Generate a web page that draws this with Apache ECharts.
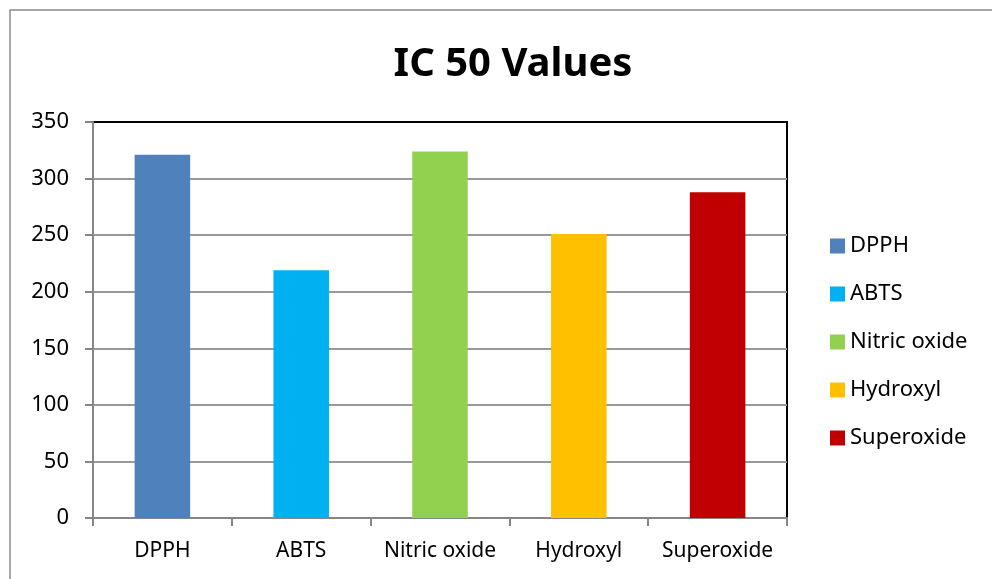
<!DOCTYPE html>
<html>
<head>
<meta charset="utf-8">
<script src="https://cdn.jsdelivr.net/npm/echarts@6/dist/echarts.min.js"></script>
<style>
  html, body { margin: 0; padding: 0; background: #fff; }
  #chart { width: 992px; height: 579px; }
</style>
</head>
<body>
<div id="chart"></div>
<script>
// chart data
const categories = ['DPPH', 'ABTS', 'Nitric oxide', 'Hydroxyl', 'Superoxide'];
const values = [321, 219, 324, 251, 288];
const yTicks = [0, 50, 100, 150, 200, 250, 300, 350];

// bar colours, one per category
const barColors = ['#4f81bd', '#00b0f0', '#92d050', '#ffc000', '#c00000'];

const chart = echarts.init(document.getElementById('chart'));
const font = 'Noto Sans';

// one series per category so every bar gets its own legend entry
const series = categories.map((name, i) => ({
  name: name,
  type: 'bar',
  stack: 'all',
  barWidth: '40%',
  itemStyle: { color: barColors[i] },
  data: categories.map((c, j) => (j === i ? values[i] : null))
}));

chart.setOption({
  animation: false,
  title: {
    text: 'IC 50 Values',
    left: 508,
    textAlign: 'center',
    top: 40,
    textStyle: { fontFamily: font, fontSize: 40, fontWeight: 'bold', color: '#000' }
  },
  graphic: [{
    type: 'rect',
    shape: { x: 10, y: 10, width: 1000, height: 600 },
    style: { fill: 'none', stroke: '#8c8c8c', lineWidth: 1.5 },
    z: -1
  }],
  legend: {
    orient: 'vertical',
    left: 825,
    top: 230,
    icon: 'rect',
    itemWidth: 15,
    itemHeight: 15,
    itemGap: 26,
    textStyle: { fontFamily: font, fontSize: 22, color: '#000' },
    data: categories
  },
  grid: {
    left: 93,
    right: 205,
    top: 122,
    bottom: 61,
    show: true,
    borderColor: '#000',
    borderWidth: 2
  },
  xAxis: {
    type: 'category',
    data: categories,
    axisLine: { lineStyle: { color: '#868686', width: 2 } },
    axisTick: { show: true, interval: 0, length: 8, alignWithLabel: false, lineStyle: { color: '#868686', width: 2 } },
    axisLabel: { interval: 0, hideOverlap: false, fontFamily: font, fontSize: 21, color: '#000', margin: 23 }
  },
  yAxis: {
    type: 'value',
    min: yTicks[0],
    max: yTicks[yTicks.length - 1],
    interval: yTicks[1] - yTicks[0],
    axisLine: { show: true, lineStyle: { color: '#868686', width: 2 } },
    axisTick: { show: true, length: 8, lineStyle: { color: '#868686', width: 2 } },
    axisLabel: { fontFamily: font, fontSize: 22, color: '#000', margin: 24 },
    splitLine: { showMaxLine: false, lineStyle: { color: '#999', width: 2 } }
  },
  series: series
});
</script>
</body>
</html>
